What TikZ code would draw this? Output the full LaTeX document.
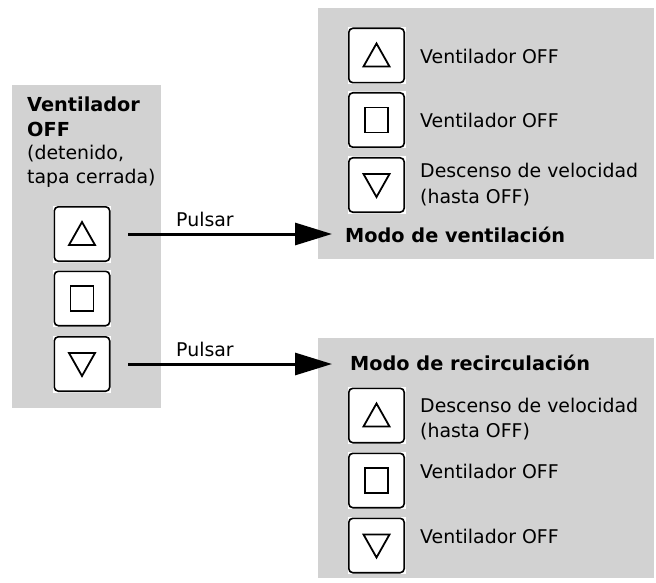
\documentclass[tikz,border=0pt]{standalone}
\usepackage{fontspec}
\setmainfont{DejaVu Sans}
\usetikzlibrary{arrows.meta}
\definecolor{panelgray}{RGB}{210,210,210}
\begin{document}
\begin{tikzpicture}[x=1pt,y=-1pt,
  panel/.style={fill=panelgray,draw=none},
  btnbg/.style={fill=white,draw=none,minimum width=58pt,minimum height=57pt,inner sep=0pt},
  btnframe/.style={draw=black,line width=1.6pt,rounded corners=4pt},
  icon/.style={draw=black,line width=1.8pt,line join=miter},
  txt/.style={anchor=base west,inner sep=0pt,font=\fontsize{18.9}{23}\selectfont},
  btxt/.style={txt,font=\fontsize{19.3}{23}\selectfont\bfseries},
  pulse/.style={line width=3pt,-{Triangle[length=37pt,width=22pt]}}
]
\useasboundingbox (0,0) rectangle (656,583);
% panels
\fill[panel] (12,85) rectangle (161,408);
\fill[panel] (318,8) rectangle (654,259);
\fill[panel] (318,338) rectangle (654,578);

% button macro
\newcommand{\mybtn}[4]{%
  \node[btnbg] (#1) at (#2,#3) {};
  \draw[btnframe] ([shift={(1.5,1.5)}]#1.north west) rectangle ([shift={(-1.5,-1.5)}]#1.south east);
  \ifcase#4
    \draw[icon] ([shift={(-13,11)}]#1.center) -- ([shift={(13,11)}]#1.center) -- ([shift={(0,-12)}]#1.center) -- cycle;
  \or
    \draw[icon] ([shift={(-11.5,-12.5)}]#1.center) rectangle ([shift={(11.5,12.5)}]#1.center);
  \or
    \draw[icon] ([shift={(-13,-11)}]#1.center) -- ([shift={(13,-11)}]#1.center) -- ([shift={(0,12)}]#1.center) -- cycle;
  \fi
}

% left panel
\node[btxt] (lt1) at (27,112) {Ventilador};
\node[btxt] (lt2) at (27,137) {OFF};
\node[txt] (lt3) at (27,160) {(detenido,};
\node[txt] (lt4) at (27,183) {tapa cerrada)};
\mybtn{la}{82}{234}{0}
\mybtn{ls}{82}{298.5}{1}
\mybtn{ld}{82}{364}{2}

% top right panel
\mybtn{ta}{376.5}{55.5}{0}
\mybtn{ts}{376.5}{120}{1}
\mybtn{td}{376.5}{185}{2}
\node[txt] (tt1) at (420,64) {Ventilador OFF};
\node[txt] (tt2) at (420,128) {Ventilador OFF};
\node[txt] (tt3) at (420,177) {Descenso de velocidad};
\node[txt] (tt4) at (420,203) {(hasta OFF)};
\node[btxt] (tmode) at (345,242) {Modo de ventilación};

% bottom right panel
\node[btxt] (bmode) at (350,370) {Modo de recirculación};
\mybtn{ba}{376.5}{415.5}{0}
\mybtn{bs}{376.5}{480.5}{1}
\mybtn{bd}{376.5}{545.5}{2}
\node[txt] (bt1) at (420,412) {Descenso de velocidad};
\node[txt] (bt2) at (420,437) {(hasta OFF)};
\node[txt] (bt3) at (420,478) {Ventilador OFF};
\node[txt] (bt4) at (420,543) {Ventilador OFF};

% arrows
\coordinate (e1) at (332,234);
\coordinate (e2) at (332,364);
\draw[pulse] ([xshift=17pt]la.east) -- (e1);
\draw[pulse] ([xshift=17pt]ld.east) -- (e2);
\node[txt] (p1) at (176,226) {Pulsar};
\node[txt] (p2) at (176,356) {Pulsar};
\end{tikzpicture}
\end{document}
